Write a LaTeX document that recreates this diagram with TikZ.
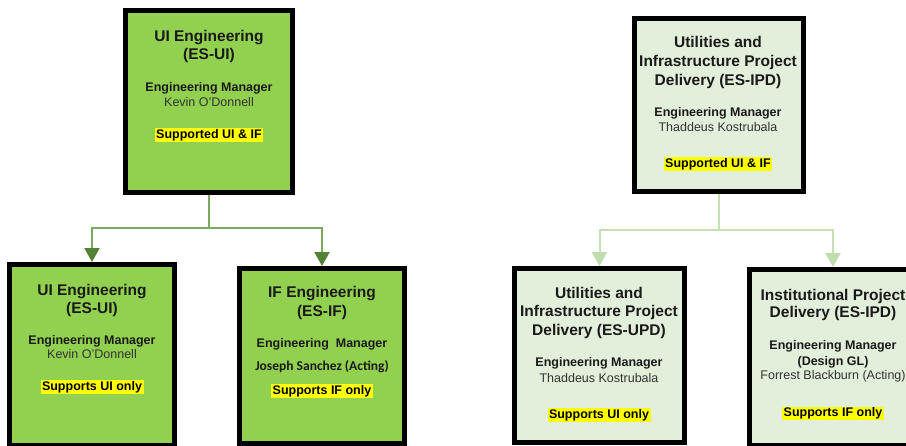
\documentclass[tikz,border=0pt]{standalone}
\usepackage{fontspec}
\setmainfont{Liberation Sans}
\newfontfamily\calib{Carlito}
\usetikzlibrary{arrows.meta}
\definecolor{gfill}{HTML}{92D050}
\definecolor{lfill}{HTML}{E2EFDA}
\definecolor{gline}{HTML}{7AAA5E}
\definecolor{ghead}{HTML}{548235}
\definecolor{lline}{HTML}{C5E0B4}
\definecolor{lhead}{HTML}{C0DDAE}
\definecolor{hl}{HTML}{FFFF00}
\definecolor{txt}{HTML}{1A1A1A}
\definecolor{txtb}{HTML}{333333}
\begin{document}
\begin{tikzpicture}[x=1pt,y=-1pt,
  gbox/.style={draw=black,line width=5pt,fill=gfill,inner sep=0pt},
  lbox/.style={draw=black,line width=5pt,fill=lfill,inner sep=0pt},
  ttl/.style={font=\bfseries\fontsize{15.5}{18}\selectfont,text=txt,anchor=base,inner sep=0pt},
  sub/.style={font=\bfseries\fontsize{12.5}{15}\selectfont,text=txt,anchor=base,inner sep=0pt},
  nam/.style={font=\fontsize{12.5}{15}\selectfont,text=txtb,anchor=base,inner sep=0pt},
  hil/.style={font=\bfseries\fontsize{12.5}{15}\selectfont,text=black,anchor=base,fill=hl,inner xsep=1.5pt,inner ysep=1pt},
  gconn/.style={draw=gline,line width=2pt},
  lconn/.style={draw=lline,line width=2pt},
  garr/.style={gconn,-{Triangle[length=14pt,width=15pt,color=ghead]}},
  larr/.style={lconn,-{Triangle[length=14pt,width=15pt,color=lhead]}}
]
\useasboundingbox (0,0) rectangle (906,445);
\clip (0,0) rectangle (906,445);
\fill[white] (0,0) rectangle (906,445);

% boxes
\node[gbox,minimum width=167pt,minimum height=182pt] (tl) at (209,101.5) {};
\node[lbox,minimum width=169pt,minimum height=173pt] (tr) at (719,105) {};
\node[gbox,minimum width=165pt,minimum height=181pt] (c1) at (92,355) {};
\node[gbox,minimum width=165pt,minimum height=175pt] (c2) at (322,356) {};
\node[lbox,minimum width=170pt,minimum height=174pt] (c3) at (599.5,355.5) {};
\node[lbox,minimum width=167pt,minimum height=175.5pt] (c4) at (833,357.25) {};

% connectors
\coordinate (jl) at (209,228);
\coordinate (jr) at (719,230);
\draw[gconn] (tl.south) -- (jl);
\draw[garr] (jl) -| (c1.north);
\draw[garr] (jl) -| (c2.north);
\draw[lconn] (tr.south) -- (jr);
\draw[larr] (jr) -| (c3.north);
\draw[larr] (jr) -| (c4.north);

% top-left text
\node[ttl] (tla) at (209,41.7) {UI Engineering};
\node[ttl] (tlb) at (209,59.3) {(ES-UI)};
\node[sub] (tlc) at (209,91.7) {Engineering Manager};
\node[nam] (tld) at (209,106) {Kevin O’Donnell};
\node[hil] (tle) at (209,138.3) {Supported UI \& IF};

% top-right text
\node[ttl] (tra) at (718,47.7) {Utilities and};
\node[ttl] (trb) at (718,66.3) {Infrastructure Project};
\node[ttl] (trc) at (718,85) {Delivery (ES-IPD)};
\node[sub] (trd) at (718,116) {Engineering Manager};
\node[nam] (tre) at (718,131) {Thaddeus Kostrubala};
\node[hil] (trf) at (718,167.3) {Supported UI \& IF};

% child 1
\node[ttl] (c1a) at (92,295) {UI Engineering};
\node[ttl] (c1b) at (92,313.3) {(ES-UI)};
\node[sub] (c1c) at (92,344) {Engineering Manager};
\node[nam] (c1d) at (92,358.3) {Kevin O’Donnell};
\node[hil] (c1e) at (92,390) {Supports UI only};

% child 2
\node[ttl] (c2a) at (322,297.3) {IF Engineering};
\node[ttl] (c2b) at (322,316) {(ES-IF)};
\node[sub] (c2c) at (322,347.3) {Engineering\ \ Manager};
\node[sub,font=\calib\bfseries\fontsize{13.5}{16}\selectfont] (c2d) at (322,370) {Joseph Sanchez (Acting)};
\node[hil] (c2e) at (322,394) {Supports IF only};

% child 3
\node[ttl] (c3a) at (599,298.3) {Utilities and};
\node[ttl] (c3b) at (599,316.7) {Infrastructure Project};
\node[ttl] (c3c) at (599,335) {Delivery (ES-UPD)};
\node[sub] (c3d) at (599,366.7) {Engineering Manager};
\node[nam] (c3e) at (599,382.7) {Thaddeus Kostrubala};
\node[hil] (c3f) at (599,418.3) {Supports UI only};

% child 4
\node[ttl] (c4a) at (833,300) {Institutional Project};
\node[ttl] (c4b) at (833,317.7) {Delivery (ES-IPD)};
\node[sub] (c4c) at (833,349.3) {Engineering Manager};
\node[sub] (c4d) at (833,365) {(Design GL)};
\node[nam] (c4e) at (833,379.3) {Forrest Blackburn (Acting)};
\node[hil] (c4f) at (833,416.7) {Supports IF only};
\end{tikzpicture}
\end{document}
